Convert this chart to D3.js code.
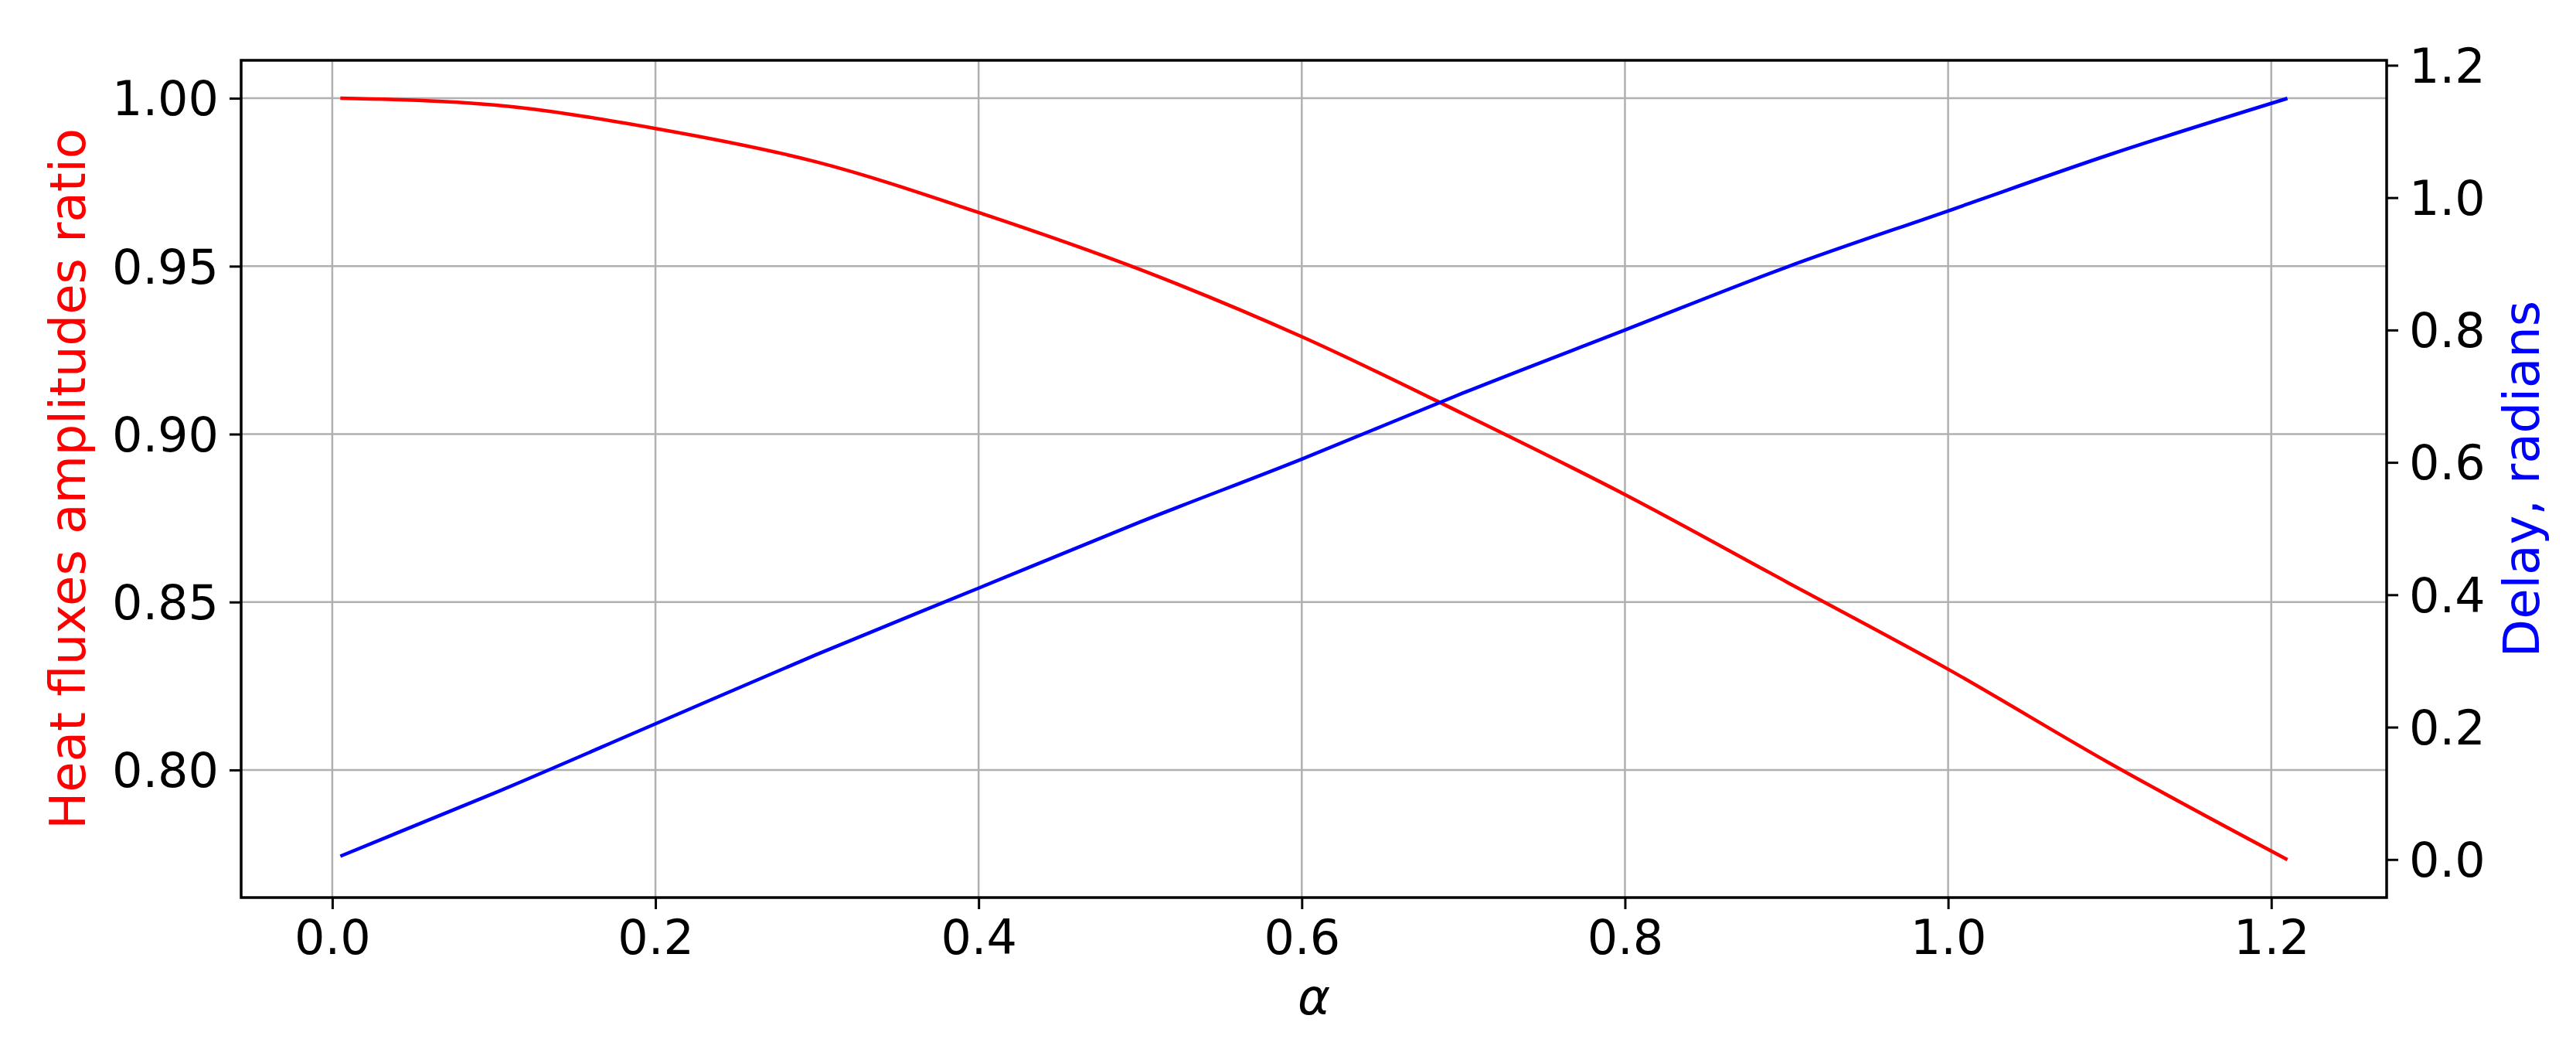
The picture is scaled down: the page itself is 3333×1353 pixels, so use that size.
<!DOCTYPE html>
<html><head><meta charset="utf-8">
<script src="https://cdn.jsdelivr.net/npm/d3@7"></script>
<style>body{margin:0;background:#fff}text{font-family:"DejaVu Sans",sans-serif}</style>
</head><body><svg id="c" width="3333" height="1353"></svg>
<script>
const alpha = [0.005,0.1,0.2,0.3,0.4,0.5,0.6,0.7,0.8,0.9,1.0,1.1,1.21];
const ratio = [1.0,0.998,0.991,0.981,0.966,0.949,0.929,0.906,0.882,0.856,0.830,0.802,0.7733];
const delay = [0.005,0.1,0.205,0.31,0.41,0.51,0.605,0.705,0.80,0.895,0.98,1.065,1.15];
const xTicks = [0,0.2,0.4,0.6,0.8,1.0,1.2];
const yLTicks = [0.80,0.85,0.90,0.95,1.00];
const yRTicks = [0,0.2,0.4,0.6,0.8,1.0,1.2];

const L=312,R=3088,T=78,B=1161;
const svg=d3.select("#c");
const x=d3.scaleLinear().domain([-0.0564,1.2714]).range([L,R]);
const yL=d3.scaleLinear().domain([0.762,1.0113]).range([B,T]);
const yR=d3.scaleLinear().domain([-0.0575,1.2075]).range([B,T]);

const g=svg.append("g");
g.selectAll(".gx").data(xTicks).join("line").attr("x1",d=>x(d)).attr("x2",d=>x(d)).attr("y1",T).attr("y2",B).attr("stroke","#b0b0b0").attr("stroke-width",2.5);
g.selectAll(".gy").data(yLTicks).join("line").attr("x1",L).attr("x2",R).attr("y1",d=>yL(d)).attr("y2",d=>yL(d)).attr("stroke","#b0b0b0").attr("stroke-width",2.5);

const line=(ys,sc)=>d3.line().x((d,i)=>x(alpha[i])).y((d,i)=>sc(ys[i])).curve(d3.curveMonotoneX)(alpha);
svg.append("path").attr("d",line(ratio,yL)).attr("fill","none").attr("stroke","red").attr("stroke-width",4.5);
svg.append("path").attr("d",line(delay,yR)).attr("fill","none").attr("stroke","blue").attr("stroke-width",4.5);

function style(a){a.selectAll("text").attr("font-size",62).attr("fill","#000").style("font-family","DejaVu Sans");a.selectAll("line").attr("stroke-width",3);a.select(".domain").remove();}
svg.append("g").attr("transform",`translate(0,${B})`).call(d3.axisBottom(x).tickValues(xTicks).tickFormat(d3.format(".1f")).tickSize(15).tickPadding(14)).call(style);
svg.append("g").attr("transform",`translate(${L},0)`).call(d3.axisLeft(yL).tickValues(yLTicks).tickFormat(d3.format(".2f")).tickSize(15).tickPadding(14)).call(style).selectAll("text").attr("dy","0.35em");
svg.append("g").attr("transform",`translate(${R},0)`).call(d3.axisRight(yR).tickValues(yRTicks).tickFormat(d3.format(".1f")).tickSize(15).tickPadding(14)).call(style).selectAll("text").attr("dy","0.35em");

svg.append("rect").attr("x",L).attr("y",T).attr("width",R-L).attr("height",B-T).attr("fill","none").attr("stroke","#000").attr("stroke-width",3.5);

svg.append("text").attr("x",(L+R)/2).attr("y",1312).attr("text-anchor","middle").attr("font-size",64).attr("font-style","italic").text("α");
svg.append("text").attr("transform",`translate(110,${(T+B)/2}) rotate(-90)`).attr("text-anchor","middle").attr("font-size",64).attr("fill","red").text("Heat fluxes amplitudes ratio");
svg.append("text").attr("transform",`translate(3285,${(T+B)/2}) rotate(-90)`).attr("text-anchor","middle").attr("font-size",64).attr("fill","blue").text("Delay, radians");
</script></body></html>
